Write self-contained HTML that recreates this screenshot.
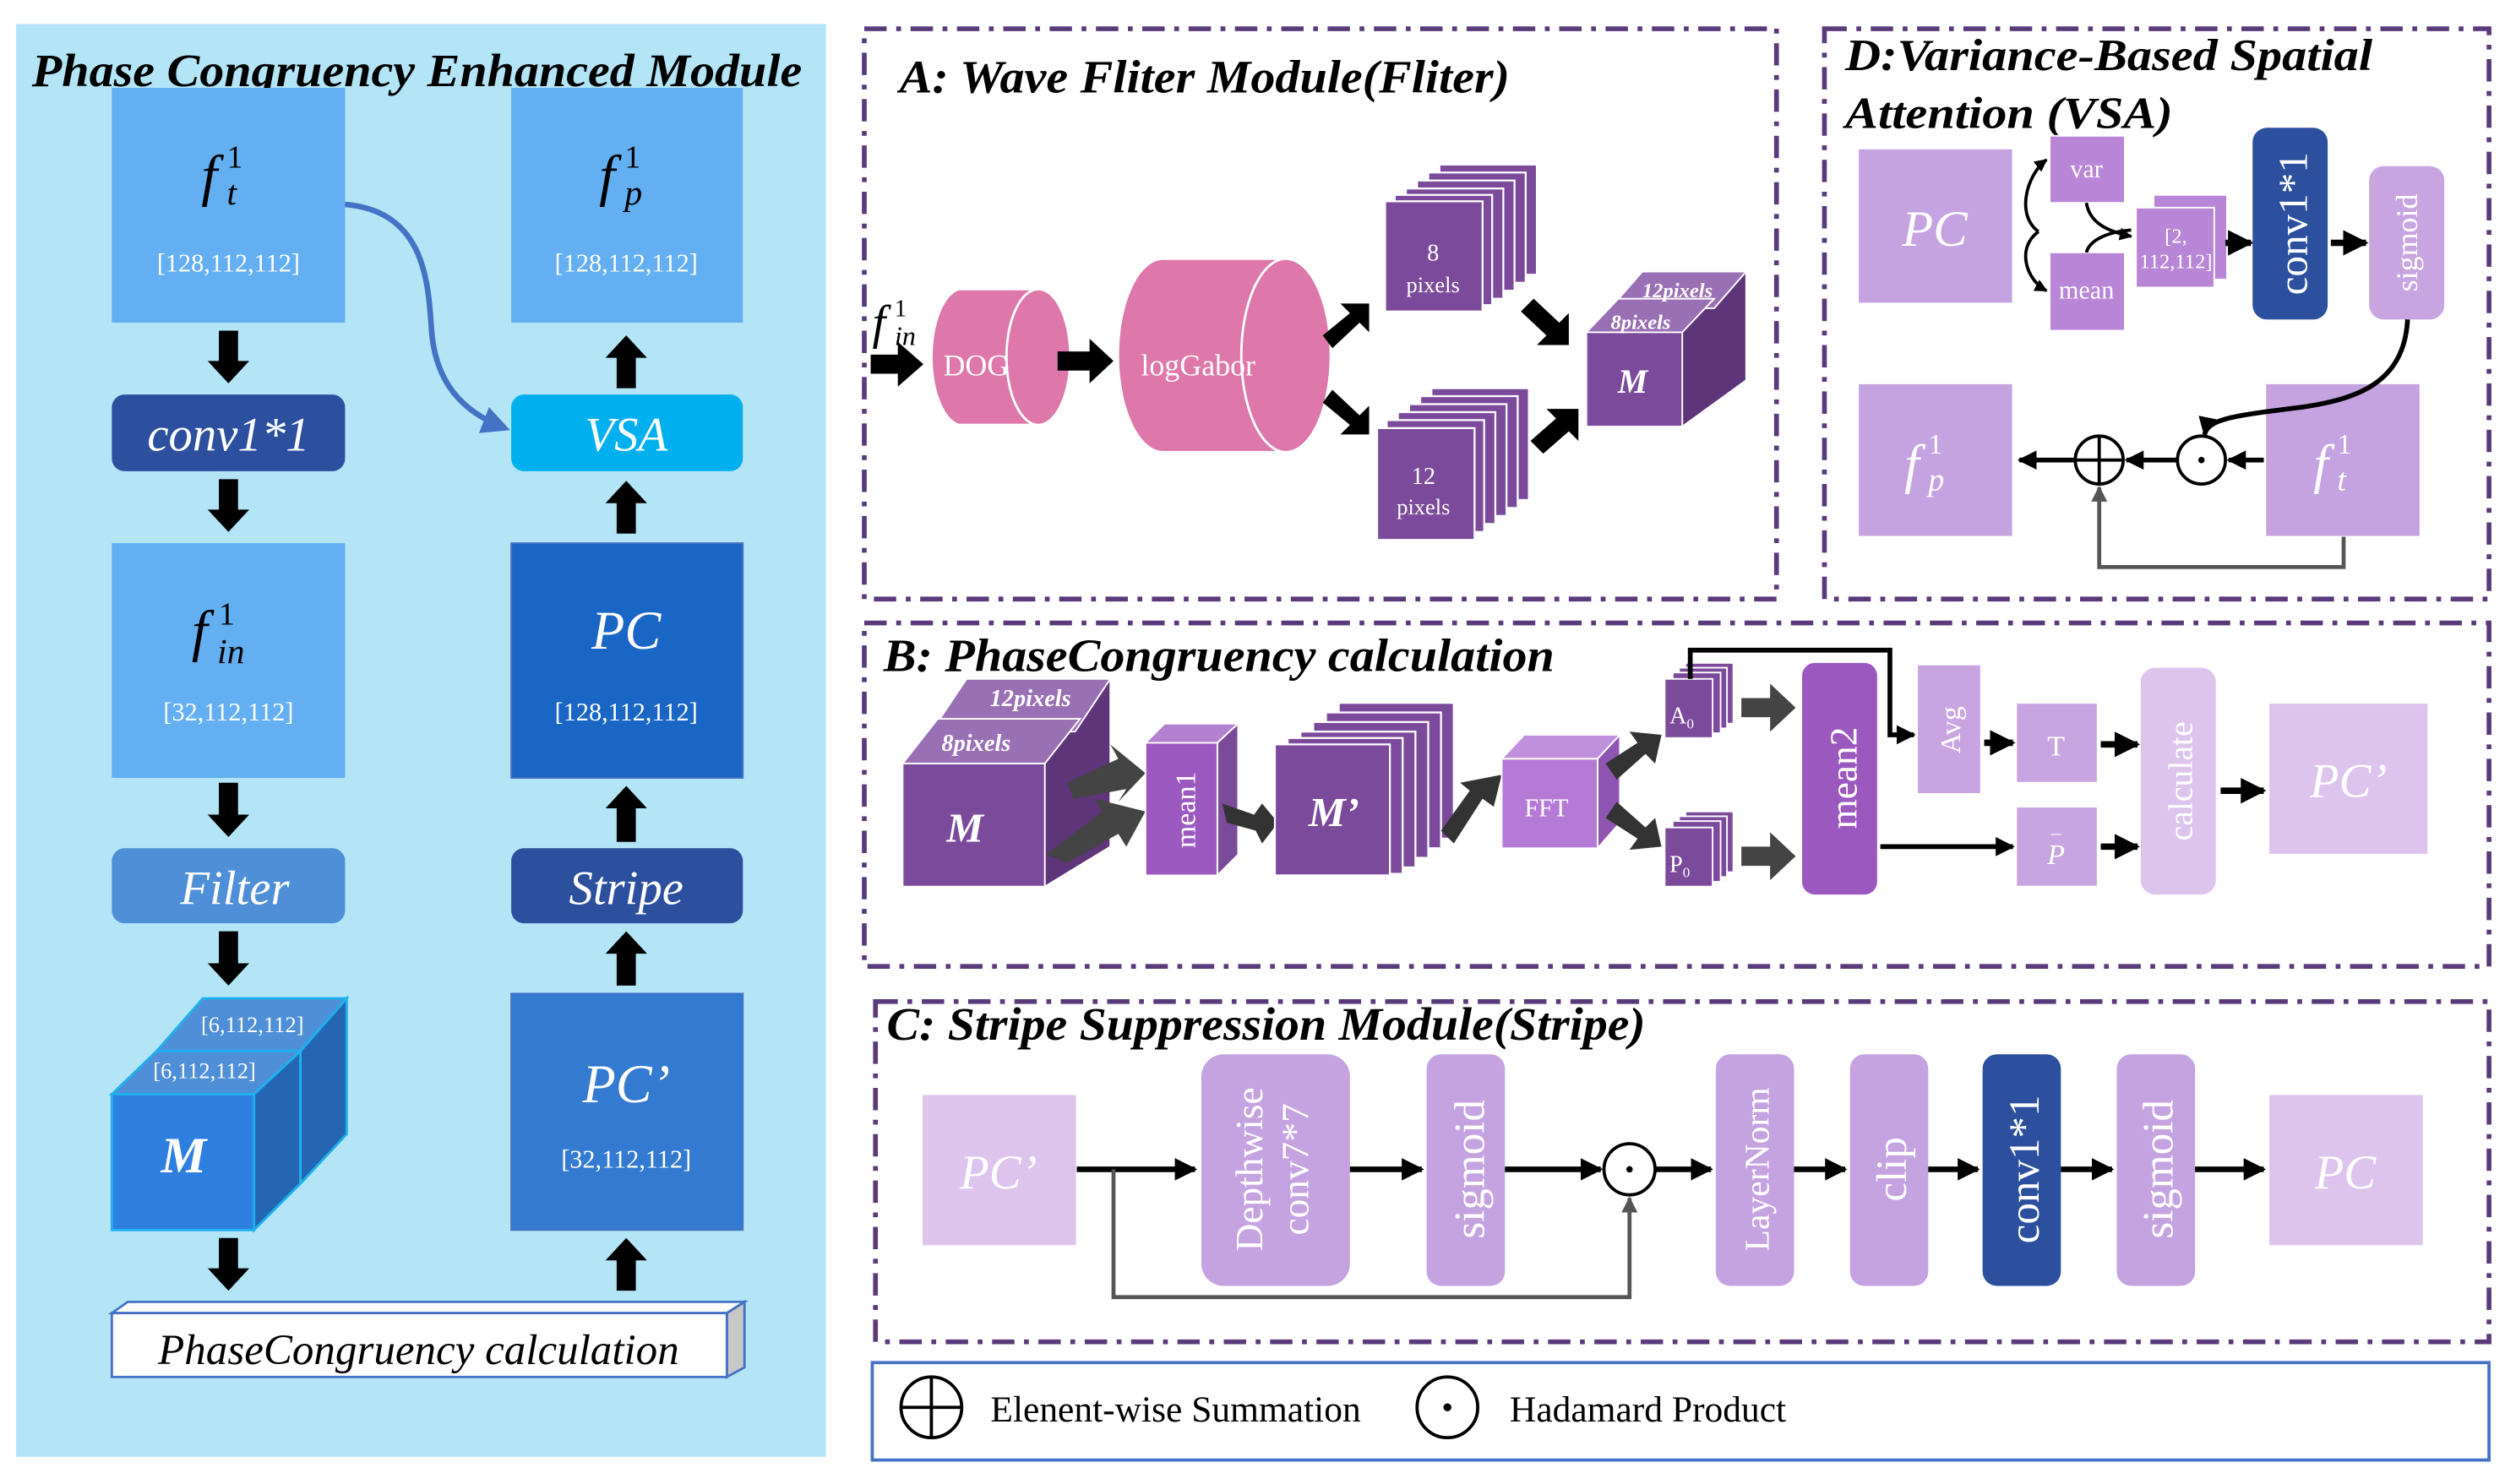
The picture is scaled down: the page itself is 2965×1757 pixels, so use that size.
<!DOCTYPE html>
<html><head><meta charset="utf-8"><style>
html,body{margin:0;padding:0;background:#fff;}
svg{display:block;font-family:"Liberation Serif",serif;}
</style></head><body>
<svg width="2965" height="1757" viewBox="0 0 1568 929" preserveAspectRatio="none" xmlns="http://www.w3.org/2000/svg" font-family="Liberation Serif, serif">
<defs>
<marker id="ah" viewBox="0 0 10 10" refX="9" refY="5" markerWidth="4" markerHeight="4" orient="auto"><path d="M0 0L10 5L0 10z" fill="#000"/></marker>
<marker id="ahg" viewBox="0 0 10 10" refX="9" refY="5" markerWidth="4" markerHeight="4" orient="auto"><path d="M0 0L10 5L0 10z" fill="#555"/></marker>
<marker id="ahb" viewBox="0 0 10 10" refX="8" refY="5" markerWidth="5" markerHeight="5" orient="auto"><path d="M0 0L10 5L0 10z" fill="#4472c4"/></marker>
</defs>
<rect width="1568" height="929" fill="#fff"/>

<!-- LEFT PANEL -->
<rect x="10" y="15" width="507" height="897" fill="#b3e5f7"/>
<text x="20" y="54" font-size="29" font-weight="bold" font-style="italic" textLength="482" lengthAdjust="spacingAndGlyphs">Phase Congruency Enhanced Module</text>

<rect x="70" y="55" width="146" height="147" fill="#64aff2"/>
<text x="126" y="122" font-size="36" font-style="italic">f</text><text x="142" y="105" font-size="20">1</text><text x="142" y="128" font-size="22" font-style="italic">t</text>
<text x="143" y="170" font-size="16" fill="#fff" text-anchor="middle">[128,112,112]</text>

<rect x="70" y="247" width="146" height="48" rx="8" fill="#2c4f9e"/>
<text x="143" y="282" font-size="30" font-style="italic" fill="#fff" text-anchor="middle">conv1*1</text>

<rect x="70" y="340" width="146" height="147" fill="#64aff2"/>
<text x="120" y="407" font-size="36" font-style="italic">f</text><text x="137" y="391" font-size="20">1</text><text x="136" y="415" font-size="22" font-style="italic">in</text>
<text x="143" y="451" font-size="16" fill="#fff" text-anchor="middle">[32,112,112]</text>

<rect x="70" y="531" width="146" height="47" rx="8" fill="#4f8fd8"/>
<text x="147" y="566" font-size="30" font-style="italic" fill="#fff" text-anchor="middle">Filter</text>

<!-- M cube -->
<g stroke="#1fb0ee" stroke-width="1.5">
<polygon points="188,658 217,625 217,710 188,741" fill="#2566b3"/>
<polygon points="98,658 127,625 217,625 188,658" fill="#4f8fd8"/>
<polygon points="159,685 188,658 188,741 159,770" fill="#2566b3"/>
<polygon points="70,685 98,658 188,658 159,685" fill="#4f8fd8"/>
<rect x="70" y="685" width="89" height="85" fill="#2e7fe0"/>
</g>
<text x="158" y="646" font-size="14" fill="#fff" text-anchor="middle">[6,112,112]</text>
<text x="128" y="675" font-size="14" fill="#fff" text-anchor="middle">[6,112,112]</text>
<text x="115" y="734" font-size="32" font-weight="bold" font-style="italic" fill="#fff" text-anchor="middle">M</text>

<polygon points="70,822 80,815 466,815 455,822" fill="#fff" stroke="#4472c4" stroke-width="1.5"/>
<polygon points="455,822 466,815 466,856 455,862" fill="#c8c8c8" stroke="#4472c4" stroke-width="1.5"/>
<rect x="70" y="822" width="385" height="40" fill="#fff" stroke="#4472c4" stroke-width="1.5"/>
<text x="262" y="854" font-size="27" font-style="italic" text-anchor="middle">PhaseCongruency calculation</text>

<g fill="#000">
<path d="M137 207H149V226H156L143 240L130 226H137Z"/>
<path d="M137 300H149V319H156L143 333L130 319H137Z"/>
<path d="M137 490H149V510H156L143 524L130 510H137Z"/>
<path d="M137 583H149V603H156L143 617L130 603H137Z"/>
<path d="M137 775H149V794H156L143 808L130 794H137Z"/>
<path d="M386 243H398V224H405L392 210L379 224H386Z"/>
<path d="M386 334H398V315H405L392 301L379 315H386Z"/>
<path d="M386 527H398V506H405L392 492L379 506H386Z"/>
<path d="M386 617H398V597H405L392 583L379 597H386Z"/>
<path d="M386 808H398V789H405L392 775L379 789H386Z"/>
</g>

<rect x="320" y="55" width="145" height="147" fill="#64aff2"/>
<text x="375" y="122" font-size="36" font-style="italic">f</text><text x="391" y="105" font-size="20">1</text><text x="391" y="128" font-size="22" font-style="italic">p</text>
<text x="392" y="170" font-size="16" fill="#fff" text-anchor="middle">[128,112,112]</text>

<rect x="320" y="247" width="145" height="48" rx="8" fill="#00b0ee"/>
<text x="392" y="282" font-size="30" font-style="italic" fill="#fff" text-anchor="middle">VSA</text>

<rect x="320" y="340" width="145" height="147" fill="#1a66c5" stroke="#4472c4"/>
<text x="392" y="406" font-size="34" font-style="italic" fill="#fff" text-anchor="middle">PC</text>
<text x="392" y="451" font-size="16" fill="#fff" text-anchor="middle">[128,112,112]</text>

<rect x="320" y="531" width="145" height="47" rx="8" fill="#2c4f9e"/>
<text x="392" y="566" font-size="30" font-style="italic" fill="#fff" text-anchor="middle">Stripe</text>

<rect x="320" y="622" width="145" height="148" fill="#337ad0" stroke="#4472c4"/>
<text x="392" y="690" font-size="34" font-style="italic" fill="#fff" text-anchor="middle">PC’</text>
<text x="392" y="731" font-size="16" fill="#fff" text-anchor="middle">[32,112,112]</text>

<path d="M216 128 C265 132 268 175 270 205 C272 240 290 258 316 268" fill="none" stroke="#4472c4" stroke-width="3.5" marker-end="url(#ahb)"/>

<g fill="none" stroke="#5a3a7a" stroke-width="3" stroke-dasharray="14,6,3,6">
<rect x="541" y="18" width="571" height="357"/>
<rect x="1142" y="18" width="416" height="357"/>
<rect x="541" y="390" width="1017" height="215"/>
<rect x="548" y="627" width="1010" height="213"/>
</g>

<!-- PANEL A -->
<text x="563" y="58" font-size="29" font-weight="bold" font-style="italic" textLength="382" lengthAdjust="spacingAndGlyphs">A: Wave Fliter Module(Fliter)</text>
<text x="546" y="212" font-size="30" font-style="italic">f</text><text x="560" y="198" font-size="15">1</text><text x="560" y="216" font-size="17" font-style="italic">in</text>
<path d="M545 222H562V214L578 228L562 242V234H545Z" fill="#000"/>
<g fill="#de77aa" stroke="#fff" stroke-width="1.5">
<path d="M600 181H650A20 43 0 0 1 650 266H600A20 43 0 0 1 600 181Z"/>
<ellipse cx="650" cy="223.5" rx="20" ry="42.5"/>
<path d="M728 162H805A28 60 0 0 1 805 283H728A28 60 0 0 1 728 162Z"/>
<ellipse cx="805" cy="222.5" rx="28" ry="60.5"/>
</g>
<text x="611" y="235" font-size="19" fill="#fff" text-anchor="middle">DOG</text>
<text x="750" y="235" font-size="19" fill="#fff" text-anchor="middle">logGabor</text>
<path d="M662 220H682V212L697 226L682 240V232H662Z" fill="#000"/>
<path d="M828 210L845 196L839 190L857 190L857 208L851 202L834 218Z" fill="#000"/>
<path d="M828 252L845 266L839 272L857 272L857 254L851 260L834 244Z" fill="#000"/>
<path d="M952 195L968 210L962 216L982 216L982 196L976 202L960 187Z" fill="#000"/>
<path d="M958 276L974 262L968 256L988 256L988 276L982 270L966 284Z" fill="#000"/>
<g fill="#7b4a9a" stroke="#fff" stroke-width="1.2">
<rect x="901" y="103" width="61" height="69"/><rect x="894" y="108" width="61" height="69"/><rect x="887" y="113" width="61" height="69"/><rect x="880" y="118" width="61" height="69"/><rect x="873" y="122" width="61" height="69"/><rect x="867" y="126" width="61" height="69"/>
<rect x="896" y="243" width="61" height="70"/><rect x="889" y="248" width="61" height="70"/><rect x="882" y="253" width="61" height="70"/><rect x="875" y="258" width="61" height="70"/><rect x="868" y="263" width="61" height="70"/><rect x="862" y="268" width="61" height="70"/>
</g>
<text x="897" y="163" font-size="15" fill="#fff" text-anchor="middle">8</text>
<text x="897" y="183" font-size="14" fill="#fff" text-anchor="middle">pixels</text>
<text x="891" y="303" font-size="15" fill="#fff" text-anchor="middle">12</text>
<text x="891" y="322" font-size="14" fill="#fff" text-anchor="middle">pixels</text>
<g stroke="#fff" stroke-width="1">
<polygon points="1053,267 1093,238 1093,170 1053,199" fill="#5e3578"/>
<polygon points="1008,193 1073,193 1093,170 1028,170" fill="#9a70b5"/>
<polygon points="993,208 1053,208 1073,187 1013,187" fill="#9a70b5"/>
<rect x="993" y="208" width="60" height="59" fill="#7b4a9a"/>
</g>
<text x="1050" y="186" font-size="13" font-style="italic" font-weight="bold" fill="#fff" text-anchor="middle">12pixels</text>
<text x="1027" y="206" font-size="13" font-style="italic" font-weight="bold" fill="#fff" text-anchor="middle">8pixels</text>
<text x="1022" y="246" font-size="21" font-style="italic" font-weight="bold" fill="#fff" text-anchor="middle">M</text>

<!-- PANEL D -->
<text x="1155" y="44" font-size="28" font-weight="bold" font-style="italic" textLength="330" lengthAdjust="spacingAndGlyphs">D:Variance-Based Spatial</text>
<text x="1155" y="80" font-size="28" font-weight="bold" font-style="italic" textLength="205" lengthAdjust="spacingAndGlyphs">Attention (VSA)</text>
<rect x="1163" y="93" width="97" height="97" fill="#c4a3e0" stroke="#fff"/>
<text x="1211" y="154" font-size="32" font-style="italic" fill="#fff" text-anchor="middle">PC</text>
<rect x="1283" y="85" width="47" height="42" fill="#b985d6" stroke="#fff"/>
<text x="1306" y="111" font-size="16" fill="#fff" text-anchor="middle">var</text>
<rect x="1283" y="158" width="47" height="49" fill="#b985d6" stroke="#fff"/>
<text x="1306" y="187" font-size="16" fill="#fff" text-anchor="middle">mean</text>
<rect x="1348" y="122" width="46" height="53" fill="#b985d6" stroke="#fff"/>
<rect x="1337" y="130" width="49" height="50" fill="#b985d6" stroke="#fff"/>
<text x="1362" y="152" font-size="13" fill="#fff" text-anchor="middle">[2,</text>
<text x="1362" y="168" font-size="13" fill="#fff" text-anchor="middle">112,112]</text>
<path d="M1276 145C1262 135 1268 110 1281 100" fill="none" stroke="#000" stroke-width="2" marker-end="url(#ah)"/>
<path d="M1276 145C1262 155 1268 175 1281 182" fill="none" stroke="#000" stroke-width="2" marker-end="url(#ah)"/>
<path d="M1306 127C1308 140 1320 145 1334 148" fill="none" stroke="#000" stroke-width="2" marker-end="url(#ah)"/>
<path d="M1306 158C1308 150 1320 145 1334 144" fill="none" stroke="#000" stroke-width="2"/>
<path d="M1393 152H1409" stroke="#000" stroke-width="4" marker-end="url(#ah)"/>
<rect x="1410" y="80" width="47" height="120" rx="9" fill="#2c4f9e"/>
<text transform="translate(1444,140) rotate(-90)" font-size="26" fill="#fff" text-anchor="middle">conv1*1</text>
<path d="M1459 152H1481" stroke="#000" stroke-width="4" marker-end="url(#ah)"/>
<rect x="1483" y="104" width="47" height="96" rx="9" fill="#c8a5e0"/>
<text transform="translate(1513,152) rotate(-90)" font-size="19" fill="#fff" text-anchor="middle">sigmoid</text>
<rect x="1163" y="240" width="97" height="96" fill="#c4a3e0" stroke="#fff"/>
<text x="1192" y="302" font-size="34" font-style="italic" fill="#fff">f</text><text x="1207" y="284" font-size="18" fill="#fff">1</text><text x="1207" y="307" font-size="20" font-style="italic" fill="#fff">p</text>
<rect x="1418" y="240" width="97" height="96" fill="#c4a3e0" stroke="#fff"/>
<text x="1448" y="302" font-size="34" font-style="italic" fill="#fff">f</text><text x="1463" y="284" font-size="18" fill="#fff">1</text><text x="1463" y="307" font-size="20" font-style="italic" fill="#fff">t</text>
<path d="M1507 200C1505 240 1475 250 1440 255C1400 260 1382 262 1380 272" fill="none" stroke="#000" stroke-width="3" marker-end="url(#ah)"/>
<circle cx="1314" cy="288" r="15" fill="#fff" stroke="#000" stroke-width="2"/>
<path d="M1314 273V303M1299 288H1329" stroke="#000" stroke-width="2"/>
<circle cx="1378" cy="288" r="15" fill="#fff" stroke="#000" stroke-width="2"/>
<circle cx="1378" cy="288" r="2" fill="#000"/>
<path d="M1417 288H1395" stroke="#000" stroke-width="3" marker-end="url(#ah)"/>
<path d="M1363 288H1331" stroke="#000" stroke-width="3" marker-end="url(#ah)"/>
<path d="M1299 288H1264" stroke="#000" stroke-width="3" marker-end="url(#ah)"/>
<path d="M1467 336V355H1314V305" fill="none" stroke="#555" stroke-width="2.5" marker-end="url(#ahg)"/>

<!-- PANEL B -->
<text x="553" y="420" font-size="29" font-weight="bold" font-style="italic" textLength="420" lengthAdjust="spacingAndGlyphs">B: PhaseCongruency calculation</text>
<g stroke="#fff" stroke-width="1">
<polygon points="654,555 695,530 695,425 654,450" fill="#5e3578"/>
<polygon points="583,458 673,458 695,425 605,425" fill="#9a70b5"/>
<polygon points="565,478 654,478 676,450 587,450" fill="#9a70b5"/>
<rect x="565" y="478" width="89" height="77" fill="#7b4a9a"/>
</g>
<text x="645" y="442" font-size="15" font-style="italic" font-weight="bold" fill="#fff" text-anchor="middle">12pixels</text>
<text x="611" y="470" font-size="15" font-style="italic" font-weight="bold" fill="#fff" text-anchor="middle">8pixels</text>
<text x="604" y="527" font-size="26" font-style="italic" font-weight="bold" fill="#fff" text-anchor="middle">M</text>
<path d="M668 490L700 475L695 466L717 484L700 502L705 494L672 500Z" fill="#444"/>
<path d="M655 535L690 508L685 500L717 508L705 530L700 522L668 540Z" fill="#444"/>
<g stroke="#fff" stroke-width="1">
<polygon points="717,465 729,453 775,453 762,465" fill="#b480d0"/>
<polygon points="762,548 775,535 775,453 762,465" fill="#7b4a9a"/>
<rect x="717" y="465" width="45" height="83" fill="#9b59c0"/>
</g>
<text transform="translate(748,507) rotate(-90)" font-size="18" fill="#fff" text-anchor="middle">mean1</text>
<path d="M765 503L785 510L790 503L800 515L790 528L786 520L768 515Z" fill="#333"/>
<g fill="#7b4a9a" stroke="#fff" stroke-width="1.2">
<rect x="838" y="440" width="72" height="85"/><rect x="830" y="446" width="72" height="85"/><rect x="822" y="452" width="72" height="85"/><rect x="814" y="458" width="72" height="85"/><rect x="806" y="462" width="72" height="85"/><rect x="798" y="466" width="72" height="82"/>
</g>
<text x="835" y="517" font-size="26" font-style="italic" font-weight="bold" fill="#fff" text-anchor="middle">M’</text>
<path d="M902 520L920 495L914 490L940 485L935 505L928 500L910 528Z" fill="#333"/>
<g stroke="#fff" stroke-width="1">
<polygon points="940,475 954,460 1014,460 1000,475" fill="#c090dd"/>
<polygon points="1000,531 1014,515 1014,460 1000,475" fill="#8f55b2"/>
<rect x="940" y="475" width="60" height="56" fill="#b47ad6"/>
</g>
<text x="968" y="511" font-size="16" fill="#fff" text-anchor="middle">FFT</text>
<path d="M1005 478L1025 465L1020 458L1040 460L1036 478L1030 472L1012 488Z" fill="#333"/>
<path d="M1005 512L1025 525L1020 532L1040 530L1036 512L1030 518L1012 502Z" fill="#333"/>
<g fill="#7b4a9a" stroke="#fff" stroke-width="1">
<rect x="1055" y="415" width="30" height="38"/><rect x="1051" y="418" width="30" height="38"/><rect x="1047" y="421" width="30" height="38"/><rect x="1042" y="425" width="30" height="37"/>
<rect x="1055" y="508" width="30" height="38"/><rect x="1051" y="511" width="30" height="38"/><rect x="1047" y="514" width="30" height="38"/><rect x="1042" y="518" width="30" height="37"/>
</g>
<text x="1045" y="453" font-size="15" fill="#fff">A<tspan font-size="9" dy="3">0</tspan></text>
<text x="1045" y="546" font-size="15" fill="#fff">P<tspan font-size="9" dy="3">0</tspan></text>
<path d="M1090 437H1108V428L1124 443L1108 458V449H1090Z" fill="#444"/>
<path d="M1090 530H1108V521L1124 536L1108 551V542H1090Z" fill="#444"/>
<rect x="1128" y="415" width="47" height="145" rx="8" fill="#9b59c0"/>
<text transform="translate(1162,487) rotate(-90)" font-size="24" fill="#fff" text-anchor="middle">mean2</text>
<path d="M1058 425V407H1183V460H1198" fill="none" stroke="#000" stroke-width="3" marker-end="url(#ah)"/>
<rect x="1200" y="416" width="40" height="81" fill="#c8a5e0" stroke="#fff"/>
<text transform="translate(1227,457) rotate(-90)" font-size="18" fill="#fff" text-anchor="middle">Avg</text>
<path d="M1242 465H1260" stroke="#000" stroke-width="4" marker-end="url(#ah)"/>
<rect x="1262" y="440" width="51" height="50" fill="#c8a5e0" stroke="#fff"/>
<text x="1287" y="473" font-size="18" fill="#fff" text-anchor="middle">T</text>
<path d="M1177 530H1260" stroke="#000" stroke-width="3" marker-end="url(#ah)"/>
<rect x="1262" y="505" width="51" height="50" fill="#c8a5e0" stroke="#fff"/>
<text x="1287" y="541" font-size="18" font-style="italic" fill="#fff" text-anchor="middle">P</text>
<text x="1287" y="521" font-size="12" fill="#fff" text-anchor="middle">_</text>
<path d="M1315 466H1338" stroke="#000" stroke-width="4" marker-end="url(#ah)"/>
<path d="M1315 530H1338" stroke="#000" stroke-width="4" marker-end="url(#ah)"/>
<rect x="1340" y="418" width="47" height="142" rx="9" fill="#dcc4ec"/>
<text transform="translate(1372,489) rotate(-90)" font-size="21" fill="#fff" text-anchor="middle">calculate</text>
<path d="M1390 495H1417" stroke="#000" stroke-width="4" marker-end="url(#ah)"/>
<rect x="1420" y="440" width="100" height="95" fill="#dcc4ec" stroke="#fff"/>
<text x="1470" y="499" font-size="30" font-style="italic" fill="#fff" text-anchor="middle">PC’</text>

<!-- PANEL C -->
<text x="555" y="651" font-size="29" font-weight="bold" font-style="italic" textLength="475" lengthAdjust="spacingAndGlyphs">C: Stripe Suppression Module(Stripe)</text>
<rect x="577" y="685" width="97" height="95" fill="#dcc4ec" stroke="#fff"/>
<text x="625" y="744" font-size="30" font-style="italic" fill="#fff" text-anchor="middle">PC’</text>
<path d="M674 732H748" stroke="#000" stroke-width="3.5" marker-end="url(#ah)"/>
<path d="M697 732V812H1020V750" fill="none" stroke="#555" stroke-width="2.5" marker-end="url(#ahg)"/>
<rect x="752" y="660" width="93" height="145" rx="14" fill="#c4a3e0"/>
<text transform="translate(790,732) rotate(-90)" font-size="24" fill="#fff" text-anchor="middle">Depthwise</text>
<text transform="translate(819,732) rotate(-90)" font-size="24" fill="#fff" text-anchor="middle">conv7*7</text>
<path d="M845 732H890" stroke="#000" stroke-width="3.5" marker-end="url(#ah)"/>
<rect x="893" y="660" width="49" height="145" rx="9" fill="#c4a3e0"/>
<text transform="translate(929,732) rotate(-90)" font-size="27" fill="#fff" text-anchor="middle">sigmoid</text>
<path d="M942 732H1002" stroke="#000" stroke-width="3.5" marker-end="url(#ah)"/>
<circle cx="1020" cy="732" r="16" fill="#fff" stroke="#000" stroke-width="2"/>
<circle cx="1020" cy="732" r="2" fill="#000"/>
<path d="M1036 732H1071" stroke="#000" stroke-width="3.5" marker-end="url(#ah)"/>
<rect x="1074" y="660" width="49" height="145" rx="9" fill="#c4a3e0"/>
<text transform="translate(1107,732) rotate(-90)" font-size="22" fill="#fff" text-anchor="middle">LayerNorm</text>
<path d="M1123 732H1155" stroke="#000" stroke-width="3.5" marker-end="url(#ah)"/>
<rect x="1158" y="660" width="49" height="145" rx="9" fill="#c4a3e0"/>
<text transform="translate(1193,732) rotate(-90)" font-size="27" fill="#fff" text-anchor="middle">clip</text>
<path d="M1207 732H1238" stroke="#000" stroke-width="3.5" marker-end="url(#ah)"/>
<rect x="1241" y="660" width="49" height="145" rx="9" fill="#2c4f9e"/>
<text transform="translate(1276,732) rotate(-90)" font-size="27" fill="#fff" text-anchor="middle">conv1*1</text>
<path d="M1290 732H1322" stroke="#000" stroke-width="3.5" marker-end="url(#ah)"/>
<rect x="1325" y="660" width="49" height="145" rx="9" fill="#c4a3e0"/>
<text transform="translate(1360,732) rotate(-90)" font-size="27" fill="#fff" text-anchor="middle">sigmoid</text>
<path d="M1374 732H1417" stroke="#000" stroke-width="3.5" marker-end="url(#ah)"/>
<rect x="1420" y="685" width="97" height="95" fill="#dcc4ec" stroke="#fff"/>
<text x="1468" y="744" font-size="30" font-style="italic" fill="#fff" text-anchor="middle">PC</text>

<!-- LEGEND -->
<rect x="546" y="853" width="1012" height="61" fill="#fff" stroke="#4472c4" stroke-width="2"/>
<circle cx="583" cy="881" r="19" fill="none" stroke="#000" stroke-width="2"/>
<path d="M583 862V900M564 881H602" stroke="#000" stroke-width="2"/>
<text x="620" y="890" font-size="23">Elenent-wise Summation</text>
<circle cx="906" cy="881" r="19" fill="none" stroke="#000" stroke-width="2"/>
<circle cx="906" cy="881" r="2.5" fill="#000"/>
<text x="945" y="890" font-size="23">Hadamard Product</text>
</svg>
</body></html>
